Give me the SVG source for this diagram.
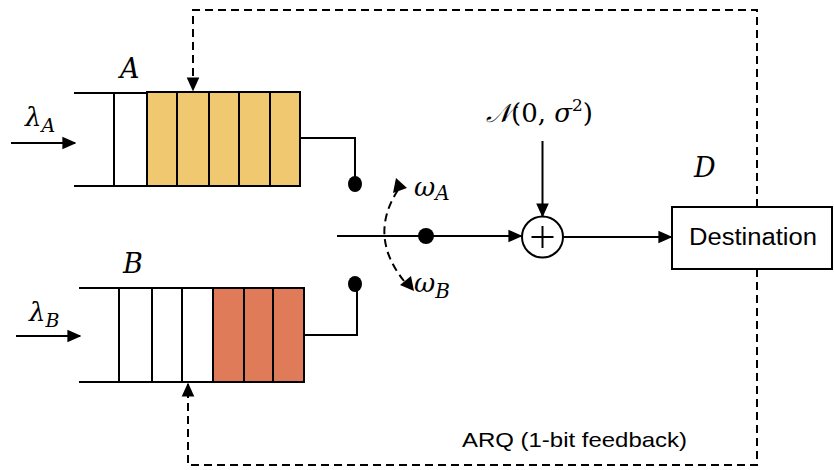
<svg xmlns="http://www.w3.org/2000/svg" width="834" height="470" viewBox="0 0 834 470">
<defs>
<marker id="ah" viewBox="0 0 10 10" refX="9" refY="5" markerWidth="14" markerHeight="14" markerUnits="userSpaceOnUse" orient="auto"><path d="M0,0.5 L10,5 L0,9.5 z" fill="#000"/></marker>
<style>
.ln{stroke:#000;stroke-width:2;fill:none}
.ds{stroke:#000;stroke-width:2;fill:none;stroke-dasharray:8 5}
.cell{stroke:#000;stroke-width:2}
.m{font-family:"DejaVu Serif","Liberation Serif",serif;font-style:italic;fill:#000}
.u{font-style:normal}
.t{font-family:"Liberation Sans","Open Sans",sans-serif;fill:#000}
</style>
</defs>
<rect width="834" height="470" fill="#fff"/>
<g id="queueA">
<line class="ln" x1="74" y1="93" x2="114" y2="93"/>
<line class="ln" x1="74" y1="186" x2="114" y2="186"/>
<rect class="cell" x="114" y="93" width="33" height="93" fill="#fff"/>
<rect class="cell" x="147" y="92" width="30" height="94" fill="#f0c870"/>
<rect class="cell" x="177" y="92" width="32" height="94" fill="#f0c870"/>
<rect class="cell" x="209" y="92" width="30" height="94" fill="#f0c870"/>
<rect class="cell" x="239" y="92" width="31" height="94" fill="#f0c870"/>
<rect class="cell" x="270" y="92" width="30" height="94" fill="#f0c870"/>
<text class="m" x="120" y="78" font-size="27">A</text>
</g>
<g id="queueB">
<line class="ln" x1="79" y1="288" x2="119" y2="288"/>
<line class="ln" x1="79" y1="382" x2="119" y2="382"/>
<rect class="cell" x="119" y="288" width="33" height="94" fill="#fff"/>
<rect class="cell" x="152" y="288" width="30" height="94" fill="#fff"/>
<rect class="cell" x="182" y="288" width="31" height="94" fill="#fff"/>
<rect class="cell" x="213" y="288" width="31" height="94" fill="#e07b5a"/>
<rect class="cell" x="244" y="288" width="29" height="94" fill="#e07b5a"/>
<rect class="cell" x="273" y="288" width="31" height="94" fill="#e07b5a"/>
<text class="m" x="123" y="273" font-size="27">B</text>
</g>
<g id="switch">
<ellipse cx="355" cy="184" rx="7" ry="8" fill="#000"/>
<ellipse cx="355" cy="284" rx="7" ry="8" fill="#000"/>
<circle cx="426" cy="236" r="8" fill="#000"/>
<text class="m" x="414" y="196" font-size="26">ω<tspan font-size="20" dy="4">A</tspan></text>
<text class="m" x="414" y="292" font-size="26">ω<tspan font-size="20" dy="6">B</tspan></text>
</g>
<g id="adder">
<circle cx="542.5" cy="237" r="20.5" fill="#fff" stroke="#000" stroke-width="2"/>
<line class="ln" x1="531.5" y1="237" x2="553.5" y2="237" stroke-width="3"/>
<line class="ln" x1="542.5" y1="226" x2="542.5" y2="248" stroke-width="3"/>
<text class="m" x="486" y="122" font-size="26">𝒩<tspan class="u">(0, </tspan>σ<tspan class="u" font-size="17" dy="-11">2</tspan><tspan class="u" dy="11">)</tspan></text>
</g>
<g id="destination">
<rect x="672" y="207" width="160" height="62" fill="#fff" stroke="#000" stroke-width="2"/>
<text class="t" x="753" y="245" font-size="23" text-anchor="middle" textLength="128" lengthAdjust="spacingAndGlyphs">Destination</text>
<text class="m" x="694" y="177" font-size="27">D</text>
</g>
<g id="labels">
<text class="m" x="25" y="126" font-size="26">λ<tspan font-size="19" dy="6">A</tspan></text>
<text class="m" x="29" y="321" font-size="26">λ<tspan font-size="19" dy="6">B</tspan></text>
<text class="t" x="462" y="447" font-size="21" textLength="225" lengthAdjust="spacingAndGlyphs">ARQ (1-bit feedback)</text>
</g>
<g id="connectors">
<line class="ln" x1="11" y1="143" x2="75" y2="143" marker-end="url(#ah)"/>
<line class="ln" x1="16" y1="336" x2="80" y2="336" marker-end="url(#ah)"/>
<polyline class="ln" points="300,138 355,138 355,184"/>
<polyline class="ln" points="304,335 357,335 357,284"/>
<line class="ln" x1="337" y1="236" x2="521" y2="236" marker-end="url(#ah)"/>
<line class="ln" x1="542.5" y1="141" x2="542.5" y2="216" marker-end="url(#ah)"/>
<line class="ln" x1="563" y1="237" x2="671" y2="237" marker-end="url(#ah)"/>
<path class="ds" d="M398,190 Q368,236 404,281" stroke-dasharray="7 5"/>
<path d="M393,193 L396,178 L407,188 z" fill="#000"/>
<path d="M400,285 L414,291 L411,276 z" fill="#000"/>
<polyline class="ds" points="757,207 757,10 193,10 193,90" marker-end="url(#ah)"/>
<polyline class="ds" points="757,269 757,465 188,465 188,384" marker-end="url(#ah)"/>
</g>
</svg>
